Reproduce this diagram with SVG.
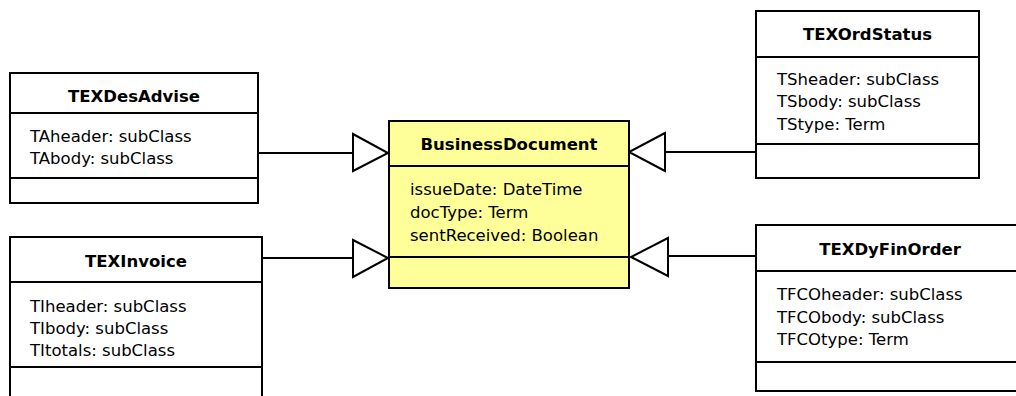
<svg xmlns="http://www.w3.org/2000/svg" width="1016" height="396" viewBox="0 0 1016 396">
  <style>
    .box { fill: #ffffff; stroke: #000000; stroke-width: 2; }
    .box.base { fill: #ffff99; }
    .sep { stroke: #000000; stroke-width: 2; }
    .title { font-family: "DejaVu Sans", Verdana, sans-serif; font-size: 16.5px; font-weight: bold; text-anchor: middle; fill: #000000; }
    .attr { font-family: "DejaVu Sans", Verdana, sans-serif; font-size: 16.5px; fill: #000000; }
    .link { stroke: #000000; stroke-width: 2; fill: none; }
    .head { fill: #ffffff; stroke: #000000; stroke-width: 2; stroke-linejoin: miter; }
  </style>
  <rect width="1016" height="396" fill="#ffffff"/>

  <!-- generalization connectors -->
  <g id="connectors">
    <line class="link" x1="258" y1="153" x2="353" y2="153"/>
    <polygon class="head" points="353,134 388,153 353,171"/>
    <line class="link" x1="262" y1="258" x2="353" y2="258"/>
    <polygon class="head" points="353,240 388,258 353,277"/>
    <line class="link" x1="756" y1="152" x2="665" y2="152"/>
    <polygon class="head" points="665,133 629,152 665,171"/>
    <line class="link" x1="756" y1="256" x2="668" y2="256"/>
    <polygon class="head" points="668,238 631,257 668,276"/>
  </g>

  <g id="TEXDesAdvise">
    <rect class="box" x="10" y="73" width="248" height="130"/>
    <line class="sep" x1="10" y1="113" x2="258" y2="113"/>
    <line class="sep" x1="10" y1="178" x2="258" y2="178"/>
    <text class="title" x="134" y="102">TEXDesAdvise</text>
    <text class="attr" x="30" y="142">TAheader: subClass</text>
    <text class="attr" x="30" y="164">TAbody: subClass</text>
  </g>

  <g id="BusinessDocument">
    <rect class="box base" x="389" y="121" width="240" height="167"/>
    <line class="sep" x1="389" y1="166" x2="629" y2="166"/>
    <line class="sep" x1="389" y1="257" x2="629" y2="257"/>
    <text class="title" x="509" y="150">BusinessDocument</text>
    <text class="attr" x="410" y="195">issueDate: DateTime</text>
    <text class="attr" x="410" y="218">docType: Term</text>
    <text class="attr" x="410" y="241">sentReceived: Boolean</text>
  </g>

  <g id="TEXOrdStatus">
    <rect class="box" x="756" y="11" width="223" height="167"/>
    <line class="sep" x1="756" y1="57" x2="979" y2="57"/>
    <line class="sep" x1="756" y1="144" x2="979" y2="144"/>
    <text class="title" x="867.5" y="40">TEXOrdStatus</text>
    <text class="attr" x="777" y="85">TSheader: subClass</text>
    <text class="attr" x="777" y="107">TSbody: subClass</text>
    <text class="attr" x="777" y="130">TStype: Term</text>
  </g>

  <g id="TEXInvoice">
    <rect class="box" x="10" y="237" width="252" height="180"/>
    <line class="sep" x1="10" y1="282" x2="262" y2="282"/>
    <line class="sep" x1="10" y1="367" x2="262" y2="367"/>
    <text class="title" x="136" y="267">TEXInvoice</text>
    <text class="attr" x="30" y="312">TIheader: subClass</text>
    <text class="attr" x="30" y="334">TIbody: subClass</text>
    <text class="attr" x="30" y="356">TItotals: subClass</text>
  </g>

  <g id="TEXDyFinOrder">
    <rect class="box" x="756" y="225" width="268" height="166"/>
    <line class="sep" x1="756" y1="271" x2="1024" y2="271"/>
    <line class="sep" x1="756" y1="362" x2="1024" y2="362"/>
    <text class="title" x="890" y="255">TEXDyFinOrder</text>
    <text class="attr" x="777" y="300">TFCOheader: subClass</text>
    <text class="attr" x="777" y="323">TFCObody: subClass</text>
    <text class="attr" x="777" y="345">TFCOtype: Term</text>
  </g>
</svg>
